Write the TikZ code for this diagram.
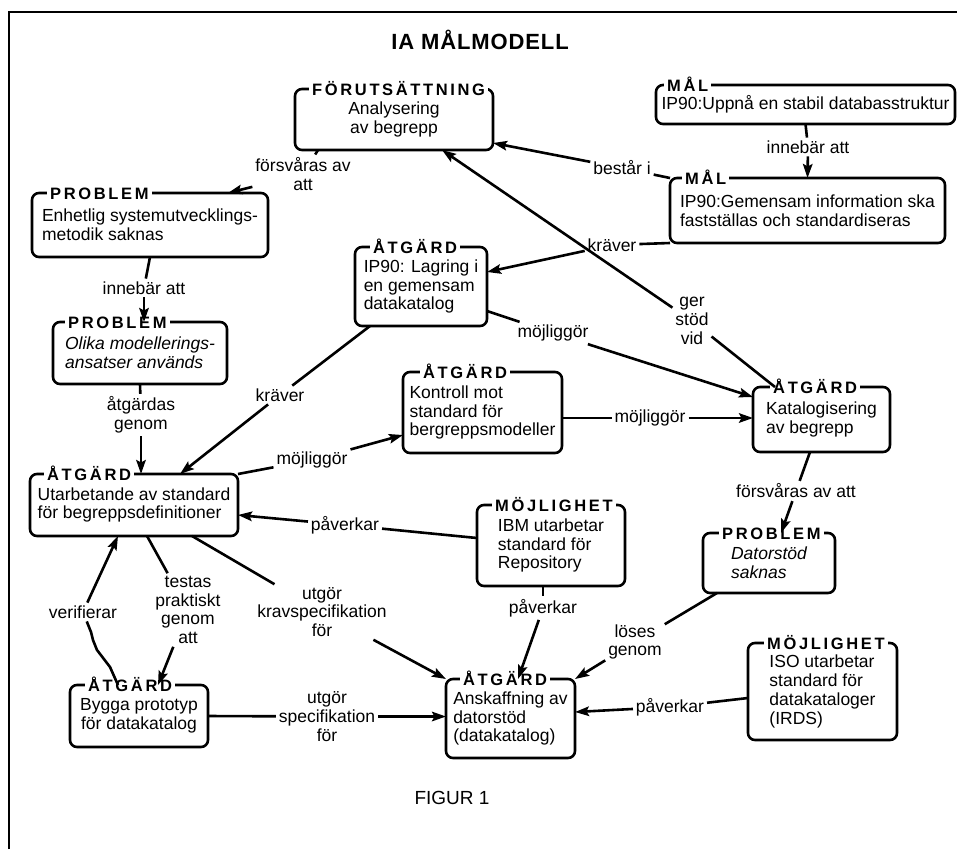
\documentclass[tikz,border=0pt]{standalone}
\usepackage{fontspec}
\setmainfont{Liberation Sans}
\newfontfamily\lblfont[LetterSpace=16]{Liberation Sans}
\newfontfamily\ttlfont[LetterSpace=4]{Liberation Sans}
\usetikzlibrary{arrows.meta}
\newcommand\bodyf{\fontsize{17.5}{18.7}\selectfont}
\newcommand\lblf{\lblfont\bfseries\fontsize{16.5}{16.5}\selectfont}
\begin{document}
\begin{tikzpicture}[x=1pt,y=-1pt,
  box/.style={draw, line width=2.6pt, rounded corners=7pt, inner xsep=4pt, inner ysep=2pt, outer sep=0pt, font=\bodyf, align=left},
  cbox/.style={box, align=center},
  lbl/.style={anchor=base west, fill=white, inner xsep=3pt, inner ysep=1pt, font=\lblf},
  elbl/.style={font=\bodyf, align=center, inner sep=3pt, outer sep=0pt},
  conn/.style={line width=2.6pt},
  arr/.style={conn, -{Stealth[length=14pt,width=9.5pt,inset=2.5pt]}},
]
\useasboundingbox (0,0) rectangle (957,849);
\draw[line width=2.2pt] (9,849) -- (9,12) -- (957,12);
\node[font=\ttlfont\bfseries\fontsize{22}{22}\selectfont] (title) at (480,40) {IA MÅLMODELL};
\node[font=\fontsize{19}{19}\selectfont] (fig) at (452,798) {FIGUR 1};

% boxes
\node[cbox, minimum width=198pt, minimum height=61pt] (FOR) at (394,119.5) {Analysering\\av begrepp};
\node[lbl] (FORl) at ([xshift=14pt,yshift=-6pt]FOR.north west) {FÖRUTSÄTTNING};

\node[box, inner xsep=3pt, minimum width=299pt, minimum height=39pt] (MAL1) at (805.5,104.5) {IP90:Uppnå en stabil databasstruktur};
\node[lbl] (MAL1l) at ([xshift=8pt,yshift=-6pt]MAL1.north west) {MÅL};

\node[box, minimum width=275pt, minimum height=65pt] (MAL2) at (807.5,210.5) {IP90:Gemensam information ska\\fastställas och standardiseras};
\node[lbl] (MAL2l) at ([xshift=12pt,yshift=-6pt]MAL2.north west) {MÅL};

\node[box, minimum width=236pt, minimum height=64pt] (PROB1) at (150,225) {Enhetlig systemutvecklings-\\metodik saknas};
\node[lbl] (PROB1l) at ([xshift=15pt,yshift=-6pt]PROB1.north west) {PROBLEM};

\node[box, minimum width=132pt, minimum height=79pt] (LAG) at (421,286.5) {IP90: Lagring i\\en gemensam\\datakatalog};
\node[lbl] (LAGl) at ([xshift=15pt,yshift=-6pt]LAG.north west) {ÅTGÄRD};

\node[box, minimum width=174pt, minimum height=62pt, font=\bodyf\itshape] (PROB2) at (140,353) {Olika modellerings-\\ansatser används};
\node[lbl] (PROB2l) at ([xshift=12pt,yshift=-6pt]PROB2.north west) {PROBLEM};

\node[box, minimum width=159pt, minimum height=81pt] (KON) at (482.5,412.5) {Kontroll mot\\standard för\\bergreppsmodeller};
\node[lbl] (KONl) at ([xshift=17pt,yshift=-6pt]KON.north west) {ÅTGÄRD};

\node[box, minimum width=137pt, minimum height=65pt] (KAT) at (821.5,419.5) {Katalogisering\\av begrepp};
\node[lbl] (KATl) at ([xshift=17pt,yshift=-6pt]KAT.north west) {ÅTGÄRD};

\node[box, minimum width=208pt, minimum height=62pt] (UTA) at (134,505) {Utarbetande av standard\\för begreppsdefinitioner};
\node[lbl] (UTAl) at ([xshift=14pt,yshift=-6pt]UTA.north west) {ÅTGÄRD};

\node[box, minimum width=148pt, minimum height=81pt] (IBM) at (551,545.5) {IBM utarbetar\\standard för\\Repository};
\node[lbl] (IBMl) at ([xshift=15pt,yshift=-6pt]IBM.north west) {MÖJLIGHET};

\node[box, minimum width=132pt, minimum height=60pt, font=\bodyf\itshape] (DAT) at (769,563) {Datorstöd\\saknas};
\node[lbl] (DATl) at ([xshift=16pt,yshift=-6pt]DAT.north west) {PROBLEM};

\node[cbox, minimum width=138pt, minimum height=62pt] (BYG) at (139,716) {Bygga prototyp\\för datakatalog};
\node[lbl] (BYGl) at ([xshift=15pt,yshift=-6pt]BYG.north west) {ÅTGÄRD};

\node[box, inner xsep=3pt, minimum width=129pt, minimum height=79pt] (ANS) at (510.5,718.5) {Anskaffning av\\datorstöd\\(datakatalog)};
\node[lbl] (ANSl) at ([xshift=14pt,yshift=-6pt]ANS.north west) {ÅTGÄRD};

\node[box, minimum width=149pt, minimum height=97pt] (ISO) at (822.5,691.5) {ISO utarbetar\\standard för\\datakataloger\\(IRDS)};
\node[lbl] (ISOl) at ([xshift=16pt,yshift=-6pt]ISO.north west) {MÖJLIGHET};

% edge labels
\node[elbl] (inn1) at (808,147) {innebär att};
\node[elbl] (best) at (622,168) {består i};
\node[elbl] (fors1) at (303,174) {försvåras av\\att};
\node[elbl] (inn2) at (144,288) {innebär att};
\node[elbl] (atg) at (141,415) {åtgärdas\\genom};
\node[elbl] (krav2) at (280,395) {kräver};
\node[elbl] (krav1) at (612,245) {kräver};
\node[elbl] (ger) at (692,321) {ger\\stöd\\vid};
\node[elbl] (moj1) at (553,333) {möjliggör};
\node[elbl] (moj2) at (650,418) {möjliggör};
\node[elbl] (moj3) at (312,460) {möjliggör};
\node[elbl] (pav1) at (345,525) {påverkar};
\node[elbl] (fors2) at (796,491) {försvåras av att};
\node[elbl] (pav2) at (543,608) {påverkar};
\node[elbl] (los) at (635,642) {löses\\genom};
\node[elbl] (pav3) at (670,707) {påverkar};
\node[elbl] (krs) at (322,612) {utgör\\kravspecifikation\\för};
\node[elbl] (tes) at (188,610) {testas\\praktiskt\\genom\\att};
\node[elbl] (ver) at (83,612) {verifierar};
\node[elbl] (spe) at (327,716.5) {utgör\\specifikation\\för};

% connectors
\draw[conn] (MAL1.south) -- (inn1);
\draw[arr] (inn1) -- (MAL2.north);

\draw[conn] (MAL2.north west) -- (best);
\draw[arr] (best) -- ([yshift=-23.5pt]FOR.east);

\draw[conn] ([xshift=23pt]FOR.south west) -- (fors1);
\draw[arr] (fors1) -- ([xshift=-40pt]PROB1.north east);

\draw[conn] (PROB1.south) -- (inn2);
\draw[arr] (inn2) -- (inn2 |- PROB2.north);

\draw[conn] (PROB2.south) -- (atg);
\draw[arr] (atg) -- (atg |- UTA.north);

\draw[conn] ([xshift=15pt]LAG.south west) -- (krav2);
\draw[arr] (krav2) -- ([xshift=150pt]UTA.north west);

\draw[conn] (MAL2.south west) -- (krav1);
\draw[arr] (krav1) -- ([yshift=14.5pt]LAG.east);

\draw[conn] ([xshift=22pt]KAT.north west) -- (ger);
\draw[arr] (ger) -- ([xshift=147pt]FOR.south west);

\draw[conn] ([yshift=-24.5pt]LAG.east) -- (moj1);
\draw[arr] (moj1) -- ([yshift=-10pt]KAT.north west);

\draw[conn] ([yshift=-5.5pt]KON.east) -- (moj2);
\draw[arr] (moj2) -- (moj2 -| KAT.west);

\draw[conn] (UTA.north east) -- (moj3);
\draw[arr] (moj3) -- ([yshift=-22.5pt]KON.west);

\draw[conn] ([yshift=7.5pt]IBM.west) -- (pav1);
\draw[arr] (pav1) -- ([yshift=-10pt]UTA.east);

\draw[conn] ([xshift=57pt]KAT.south west) -- (fors2);
\draw[arr] (fors2) -- ([xshift=78pt]DAT.north west);

\draw[conn] ([xshift=-8pt]IBM.south) -- (pav2);
\draw[arr] (pav2) -- ([xshift=72pt]ANS.north west);

\draw[conn] ([xshift=14pt]DAT.south west) -- (los);
\draw[arr] (los) -- (ANS.north east);

\draw[conn] ([yshift=-6.5pt]ISO.west) -- (pav3);
\draw[arr] (pav3) -- ([yshift=6.5pt]ANS.east);

\draw[conn] ([xshift=162pt]UTA.south west) -- (krs);
\draw[arr] (krs) -- (ANS.north west);

\draw[conn] ([xshift=117pt]UTA.south west) -- (tes);
\draw[arr] (tes) -- ([xshift=88pt]BYG.north west);

\draw[conn] ([xshift=48pt]BYG.north west) -- ++(-8,-18) -- ++(-13,-17) -- ++(-4,-10) -- ++(-2,-8) -- (ver);
\draw[arr] (ver) -- ([xshift=88pt]UTA.south west);

\draw[conn] (BYG.east) -- (spe);
\draw[arr] (spe) -- (spe -| ANS.west);
\end{tikzpicture}
\end{document}
